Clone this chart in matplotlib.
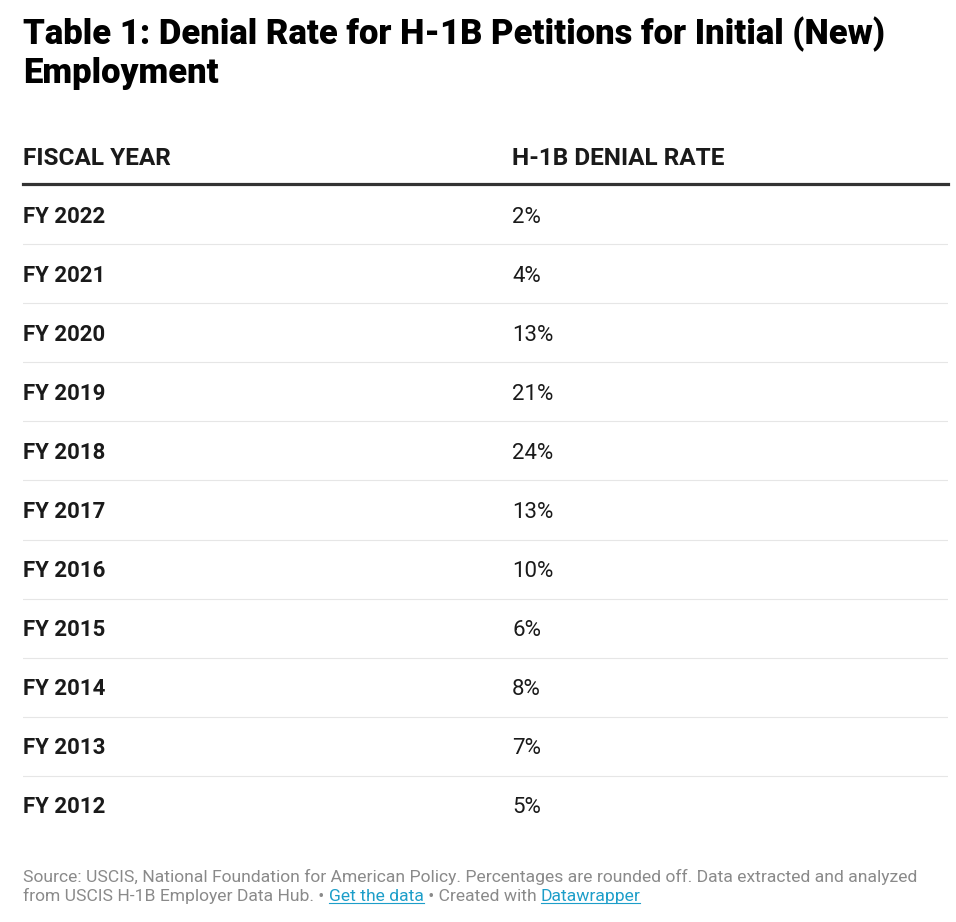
import matplotlib.pyplot as plt
from matplotlib.lines import Line2D

# table data
years = ["FY 2022", "FY 2021", "FY 2020", "FY 2019", "FY 2018", "FY 2017",
         "FY 2016", "FY 2015", "FY 2014", "FY 2013", "FY 2012"]
denial_rates = [2, 4, 13, 21, 24, 13, 10, 6, 8, 7, 5]
headers = ["FISCAL YEAR", "H-1B DENIAL RATE"]

title = "Table 1: Denial Rate for H-1B Petitions for Initial (New)\nEmployment"
source_line1 = ("Source: USCIS, National Foundation for American Policy. "
                "Percentages are rounded off. Data extracted and analyzed")
source_parts = [("from USCIS H-1B Employer Data Hub. \u2022 ", False),
                ("Get the data", True),
                (" \u2022 Created with ", False),
                ("Datawrapper", True)]

plt.rcParams['font.family'] = ['Roboto', 'DejaVu Sans']

W, H = 956, 922
fig = plt.figure(figsize=(W / 100, H / 100), dpi=100)
fig.patch.set_facecolor('white')

# title (baseline of the last line)
fig.text(23 / W, 1 - 83 / H, title, fontsize=24.9, fontweight='heavy',
         color='#000000', va='baseline', ha='left', linespacing=1.19)

# table axes: rows are indexed 0..10, y inverted
ax = fig.add_axes([23 / W, 1 - 834.5 / H, (948 - 23) / W, (834.5 - 185.5) / H])
ax.set_xlim(0, 1)
ax.set_ylim(len(years) - 0.5, -0.5)
ax.axis('off')

col2 = (512 - 23) / (948 - 23)
text_dark = '#1a1a1a'

for j, h in enumerate(headers):
    ax.text([0, col2][j], -1 + 0.15, h, fontsize=17.6, fontweight='bold',
            color=text_dark, va='baseline', ha='left', clip_on=False)

ax.axhline(-0.53, color='#333333', lw=2.3, clip_on=False)

for i, (yr, rate) in enumerate(zip(years, denial_rates)):
    ax.text(0, i + 0.13, yr, fontsize=16, fontweight='bold', color=text_dark,
            va='baseline', ha='left')
    ax.text(col2, i + 0.13, f"{rate}%", fontsize=16, color=text_dark,
            va='baseline', ha='left')
    if i < len(years) - 1:
        ax.axhline(i + 0.5, color='#e6e6e6', lw=0.8)

# footer
gray = '#8a8a8a'
link = '#1d9ec9'
fs_foot = 12.6
fig.text(23 / W, 1 - 881.5 / H, source_line1, fontsize=fs_foot, color=gray,
         va='baseline', ha='left')

fig.canvas.draw()
renderer = fig.canvas.get_renderer()
x = 23 / W
y2 = 1 - 900.5 / H
for txt, is_link in source_parts:
    t = fig.text(x, y2, txt, fontsize=fs_foot, color=link if is_link else gray,
                 va='baseline', ha='left')
    bb = t.get_window_extent(renderer)
    if is_link:
        uy = y2 - 2.5 / H
        fig.add_artist(Line2D([bb.x0 / W, bb.x1 / W], [uy, uy],
                              color=link, lw=0.8))
    x = bb.x1 / W

fig.savefig('out.png', dpi=100, facecolor='white')
